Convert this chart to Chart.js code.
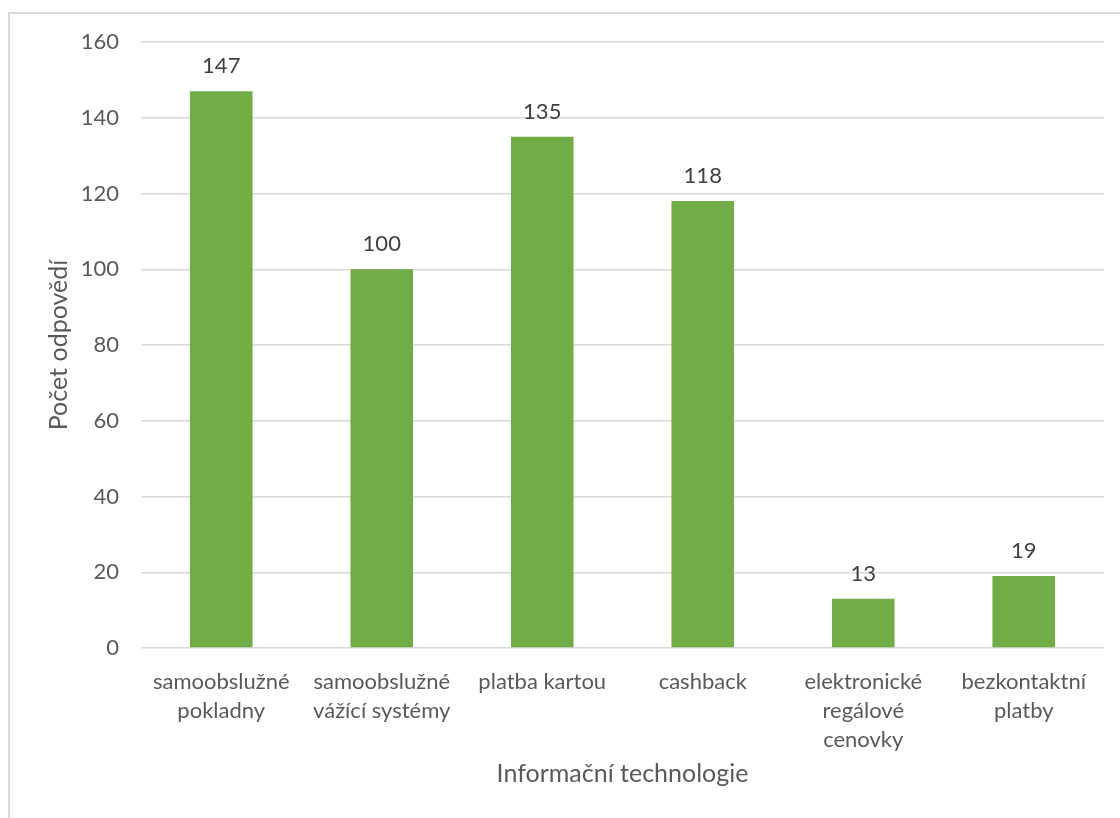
<!DOCTYPE html>
<html>
<head>
<meta charset="utf-8">
<script src="https://cdn.jsdelivr.net/npm/chart.js@4.4.0/dist/chart.umd.min.js"></script>
<style>
    html, body { margin: 0; padding: 0; background: #fff; overflow: hidden; }
    #frame {
        position: absolute; left: 8px; top: 12px; width: 1200px; height: 900px;
        border-left: 2px solid #dadada; border-top: 2px solid #dadada;
    }
    #barChart { position: absolute; left: 0; top: 0; }
</style>
</head>
<body>
<div id="frame"></div>
<canvas id="barChart" width="1120" height="818"></canvas>
<script>
// Survey answers per technology
var categories = [
    ["samoobslužné", "pokladny"],
    ["samoobslužné", "vážící systémy"],
    ["platba kartou"],
    ["cashback"],
    ["elektronické", "regálové", "cenovky"],
    ["bezkontaktní", "platby"]
];
var answers = [147, 100, 135, 118, 13, 19];
var yTicks = { min: 0, max: 160, step: 20 };

var textColor = "#595959";
var fontFamily = "Lato, 'Open Sans', sans-serif";

// value labels above each bar
var valueLabels = {
    id: "valueLabels",
    afterDatasetsDraw: function (chart) {
        var ctx = chart.ctx;
        var meta = chart.getDatasetMeta(0);
        ctx.save();
        ctx.font = "22px " + fontFamily;
        ctx.fillStyle = "#404040";
        ctx.textAlign = "center";
        ctx.textBaseline = "middle";
        meta.data.forEach(function (bar, i) {
            ctx.fillText(String(answers[i]), bar.x, bar.y - 25);
        });
        ctx.restore();
    }
};

document.addEventListener("DOMContentLoaded", function () {
    var ctx = document.getElementById("barChart").getContext("2d");

    var barChart = new Chart(ctx, {
        type: "bar",
        data: {
            labels: categories,
            datasets: [
                {
                    label: "Počet odpovědí",
                    data: answers,
                    backgroundColor: "#70ad47",
                    categoryPercentage: 0.78,
                    barPercentage: 0.5,
                },
            ],
        },
        options: {
            responsive: false,
            animation: false,
            layout: { padding: { top: 42, right: 16, left: 0, bottom: 0 } },
            plugins: {
                legend: { display: false },
                tooltip: { enabled: false },
            },
            scales: {
                x: {
                    grid: { display: false },
                    border: { display: false },
                    ticks: {
                        color: textColor,
                        padding: 11,
                        maxRotation: 0,
                        autoSkip: false,
                        font: { family: fontFamily, size: 22, lineHeight: 1.32 },
                    },
                    title: {
                        display: true,
                        text: "Informační technologie",
                        color: textColor,
                        font: { family: fontFamily, size: 25, lineHeight: 1.2 },
                        padding: { top: 0, bottom: 29 },
                    },
                    afterFit: function (scale) { scale.height = 170; },
                },
                y: {
                    min: yTicks.min,
                    max: yTicks.max,
                    grid: { color: "#d9d9d9", lineWidth: 1.5, drawTicks: false },
                    border: { display: false },
                    ticks: {
                        stepSize: yTicks.step,
                        color: textColor,
                        padding: 22,
                        font: { family: fontFamily, size: 22 },
                    },
                    title: {
                        display: true,
                        text: "Počet odpovědí",
                        color: textColor,
                        font: { family: fontFamily, size: 25, lineHeight: 1.2 },
                        padding: { top: 44, bottom: 0 },
                    },
                    afterFit: function (scale) { scale.width = 141; },
                },
            },
        },
        plugins: [valueLabels],
    });
});
</script>
</body>
</html>
